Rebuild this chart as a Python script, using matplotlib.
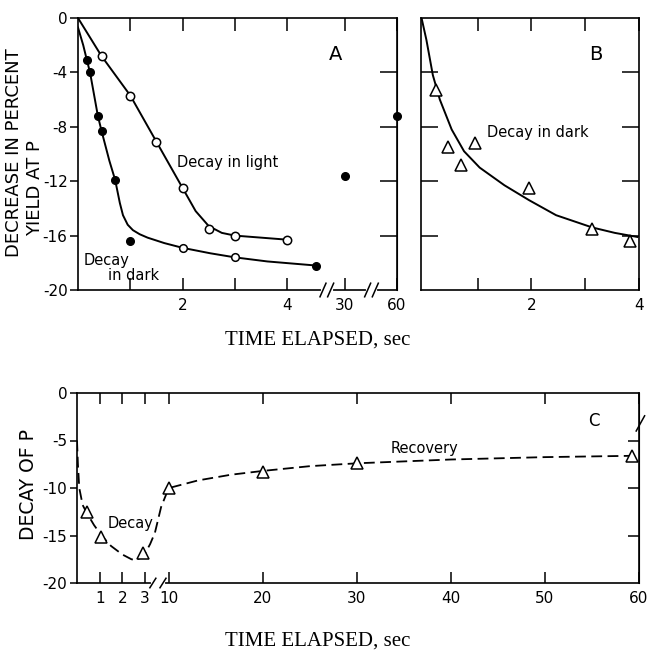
import numpy as np
import matplotlib
matplotlib.use("Agg")
import matplotlib.pyplot as plt

# ---- дані, панель A ----
# заповнені точки (темрява)
a_dark_t = [0.17, 0.23, 0.38, 0.45, 0.71, 1.0, 4.55, 30, 60]
a_dark_y = [-3.1, -4.0, -7.2, -8.3, -11.9, -16.4, -18.2, -11.6, -7.2]
# відкриті точки на кривій темряви
a_dark_open_t = [2.0, 3.0]
a_dark_open_y = [-16.9, -17.6]
# відкриті точки (світло)
a_light_t = [0.45, 1.0, 1.5, 2.0, 2.5, 3.0, 4.0]
a_light_y = [-2.8, -5.7, -9.1, -12.5, -15.5, -16.0, -16.3]
# криві
a_dark_curve_t = [0.0, 0.1, 0.17, 0.23, 0.38, 0.45, 0.6, 0.71, 0.8, 0.86, 0.95, 1.05, 1.18, 1.33, 1.65, 2.0, 2.53, 3.0, 3.62, 4.55]
a_dark_curve_y = [-0.7, -2.0, -3.1, -4.0, -7.2, -8.3, -10.5, -11.9, -13.6, -14.5, -15.2, -15.6, -15.9, -16.15, -16.55, -16.9, -17.3, -17.6, -17.9, -18.2]
a_light_curve_t = [0.0, 0.45, 1.0, 1.5, 2.0, 2.25, 2.5, 2.75, 3.0, 3.5, 4.0]
a_light_curve_y = [0.0, -2.8, -5.7, -9.1, -12.5, -14.2, -15.3, -15.8, -16.0, -16.15, -16.3]

# ---- панель B ----
b_t = [0.22, 0.46, 0.70, 0.96, 1.96, 3.13, 3.83]
b_y = [-5.3, -9.5, -10.8, -9.2, -12.5, -15.5, -16.4]
b_curve_t = [-0.04, 0.05, 0.17, 0.3, 0.52, 0.75, 1.04, 1.5, 1.96, 2.46, 3.13, 3.55, 3.97]
b_curve_y = [0.0, -1.6, -4.2, -6.0, -8.2, -9.8, -11.0, -12.3, -13.4, -14.5, -15.4, -15.8, -16.1]

# ---- панель C ----
c_t = [0.45, 1.08, 2.9, 10, 20, 30, 59.3]
c_y = [-12.5, -15.2, -16.8, -10.0, -8.3, -7.4, -6.6]
c_curve_t = [0.0, 0.04, 0.1, 0.25, 0.45, 0.75, 1.08, 1.5, 2.0, 2.4, 2.6, 2.85, 3.0, 4.5, 5.9, 7.7, 9.7, 10, 13.1, 16.6, 20, 25, 30, 40, 50, 60]
c_curve_y = [-5.0, -7.5, -10.0, -11.8, -12.7, -13.9, -15.0, -16.1, -17.0, -17.5, -17.6, -17.3, -16.9, -15.9, -14.7, -12.0, -10.2, -10.0, -9.2, -8.6, -8.2, -7.7, -7.4, -7.0, -6.75, -6.6]

# розриви осей (кусково-лінійні шкали)
a_brk_t = [0, 4.6, 30, 60]
a_brk_p = [0, 4.6, 5.1, 6.1]
c_brk_t = [0, 3, 10, 60]
c_brk_p = [0, 68, 92, 562]


def a_fwd(t):
    return np.interp(t, a_brk_t, a_brk_p)


def a_inv(p):
    return np.interp(p, a_brk_p, a_brk_t)


def c_fwd(t):
    return np.interp(t, c_brk_t, c_brk_p)


def c_inv(p):
    return np.interp(p, c_brk_p, c_brk_t)


plt.rcParams['font.family'] = ['DejaVu Sans']
W, H = 649, 652
fig = plt.figure(figsize=(W / 100, H / 100), dpi=100)


def box(l, t, r, b):
    return [l / W, 1 - b / H, (r - l) / W, (b - t) / H]


axA = fig.add_axes(box(78, 18, 397, 290))
axB = fig.add_axes(box(421, 18, 639, 290))
axC = fig.add_axes(box(77, 393, 639, 583))

lw = 1.4
tfs = 10
for ax in (axA, axB, axC):
    for s in ax.spines.values():
        s.set_linewidth(1.2)

# ---- A ----
axA.set_xscale('function', functions=(a_fwd, a_inv))
axA.plot(a_dark_curve_t, a_dark_curve_y, color='black', lw=lw)
axA.plot(a_light_curve_t, a_light_curve_y, color='black', lw=lw)
axA.plot(a_dark_t, a_dark_y, 'o', color='black', ms=5.5, clip_on=False)
axA.plot(a_dark_open_t, a_dark_open_y, 'o', mfc='white', mec='black', mew=1.1, ms=5.5)
axA.plot(a_light_t, a_light_y, 'o', mfc='white', mec='black', mew=1.1, ms=6)
axA.set_xlim(0, 60)
axA.set_ylim(-20, 0)
axA.set_yticks([0, -4, -8, -12, -16, -20])
axA.set_yticklabels(['0', '-4', '-8', '-12', '-16', '-20'], fontsize=tfs + 1)
axA.set_xticks([1, 2, 3, 4, 30, 60])
axA.set_xticklabels(['', '2', '', '4', '30', '60'], fontsize=tfs + 1)
axA.tick_params(axis='x', direction='in', top=True, bottom=True, length=9, width=1.1, pad=6)
axA.tick_params(axis='y', direction='out', left=True, right=False, length=6, width=1.1, pad=1.5)
secA = axA.secondary_yaxis('right')
secA.set_yticks([-4, -8, -12, -16])
secA.set_yticklabels([])
secA.tick_params(direction='in', length=12, width=1.1)
axA.text(1.9, -10.6, 'Decay in light', fontsize=10.5, va='center')
axA.text(0.11, -17.8, 'Decay', fontsize=10.5, va='center')
axA.text(0.57, -18.9, 'in dark', fontsize=10.5, va='center')
axA.text(0.806, 0.864, 'A', transform=axA.transAxes, fontsize=14, ha='center', va='center')

# ---- B ----
axB.plot(b_curve_t, b_curve_y, color='black', lw=lw)
axB.plot(b_t, b_y, '^', mfc='white', mec='black', mew=1.1, ms=8, clip_on=False)
axB.set_xlim(-0.05, 4.0)
axB.set_ylim(-20, 0)
axB.set_xticks([1, 2, 3, 4])
axB.set_xticklabels(['', '2', '', '4'], fontsize=tfs + 1)
axB.set_yticks([-4, -8, -12, -16])
axB.set_yticklabels([])
axB.tick_params(axis='x', direction='in', top=True, bottom=True, length=9, width=1.1, pad=6)
axB.tick_params(axis='y', direction='in', left=True, right=True, length=12, width=1.1)
axB.text(1.17, -8.4, 'Decay in dark', fontsize=10.5, va='center')
axB.text(0.80, 0.864, 'B', transform=axB.transAxes, fontsize=14, ha='center', va='center')

# ---- C ----
axC.set_xscale('function', functions=(c_fwd, c_inv))
axC.plot(c_curve_t, c_curve_y, color='black', lw=1.3, dashes=(6, 3))
axC.plot(c_t, c_y, '^', mfc='white', mec='black', mew=1.1, ms=8, clip_on=False)
axC.set_xlim(0, 60)
axC.set_ylim(-20, 0)
axC.set_xticks([1, 2, 3, 10, 20, 30, 40, 50, 60])
axC.set_xticklabels(['1', '2', '3', '10', '20', '30', '40', '50', '60'], fontsize=tfs + 1)
axC.set_yticks([0, -5, -10, -15, -20])
axC.set_yticklabels(['0', '-5', '-10', '-15', '-20'], fontsize=tfs + 1)
axC.tick_params(axis='x', direction='in', top=True, bottom=True, length=8, width=1.1, pad=6)
axC.tick_params(axis='y', direction='out', left=True, right=False, length=5, width=1.1, pad=2)
secC = axC.secondary_yaxis('right')
secC.set_yticks([-5, -10, -15])
secC.set_yticklabels([])
secC.tick_params(direction='in', length=8, width=1.1)
axC.text(1.35, -13.7, 'Decay', fontsize=10.5, va='center')
axC.text(33.6, -5.8, 'Recovery', fontsize=10.5, va='center')
axC.text(0.92, 0.85, 'C', transform=axC.transAxes, fontsize=12, ha='center', va='center')


# позначки розриву осі "//"
def brk_x(ax, xf, width_px, gap=0.012):
    dx = 3 / width_px
    ax.plot([xf - gap, xf + gap], [0, 0], color='white', lw=3, transform=ax.transAxes, clip_on=False, zorder=5)
    for x0 in (xf - gap, xf + gap):
        ax.plot([x0 - dx, x0 + dx], [-0.025, 0.025], color='black', lw=1.1,
                transform=ax.transAxes, clip_on=False, zorder=6)


brk_x(axA, 0.78, 319)
brk_x(axA, 0.92, 319)
brk_x(axC, 0.144, 562, gap=0.009)
axC.plot([0.995, 1.01], [0.80, 0.88], color='black', lw=1.1, transform=axC.transAxes, clip_on=False)

# підписи осей
fig.text(14 / W, 1 - 153 / H, 'DECREASE IN PERCENT', rotation=90, fontsize=13, ha='center', va='center')
fig.text(35 / W, 1 - 188 / H, 'YIELD AT P', rotation=90, fontsize=13, ha='center', va='center')
fig.text(28 / W, 1 - 485 / H, 'DECAY OF P', rotation=90, fontsize=13.5, ha='center', va='center')
fig.text(318 / W, 1 - 340 / H, 'TIME ELAPSED, sec', family='Liberation Serif', fontsize=15, ha='center', va='center')
fig.text(318 / W, 1 - 641 / H, 'TIME ELAPSED, sec', family='Liberation Serif', fontsize=15, ha='center', va='center')

fig.savefig('out.png', dpi=100)
